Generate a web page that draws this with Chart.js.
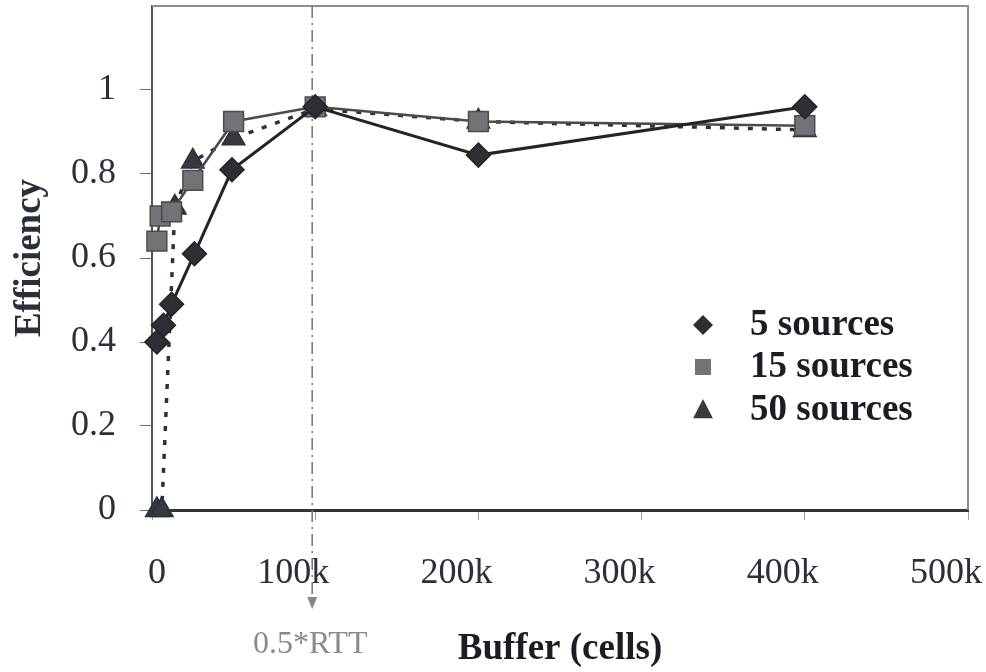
<!DOCTYPE html>
<html><head><meta charset="utf-8">
<script src="https://cdn.jsdelivr.net/npm/chart.js@4.4.1/dist/chart.umd.min.js"></script>
<style>html,body{margin:0;padding:0;background:#fff;}</style>
</head><body>
<canvas id="c" width="986" height="672"></canvas>
<script>
// ---- data (buffer in k cells, efficiency) ----
const seriesLabels = ['5 sources', '15 sources', '50 sources'];
const x5  = [3, 7, 12, 26, 49, 100, 200, 400];
const y5  = [0.40, 0.44, 0.49, 0.61, 0.81, 0.96, 0.845, 0.96];
const x15 = [3, 5, 12, 25, 50, 100, 200, 400];
const y15 = [0.64, 0.70, 0.71, 0.785, 0.925, 0.96, 0.925, 0.915];
const x50 = [3, 6, 14, 25, 50, 100, 200, 400];
const y50 = [0, 0, 0.72, 0.83, 0.885, 0.955, 0.925, 0.905];
const xTicks = [0, 100, 200, 300, 400, 500];
const yTicks = [0, 0.2, 0.4, 0.6, 0.8, 1];
const rttBuffer = 100;
const rttLabel = '0.5*RTT';
const xTitle = 'Buffer (cells)';
const yTitle = 'Efficiency';

const pts = (xs, ys) => xs.map((x, i) => ({x: x, y: ys[i]}));
const serif = '"Liberation Serif", "Times New Roman", serif';

const styles = [
  {color: '#232328', fill: '#2e2e34', dash: [], width: 3, point: 'rectRot', r: 12},
  {color: '#4a4a4f', fill: '#737377', dash: [], width: 2.5, point: 'rect', r: 14},
  {color: '#26323e', fill: '#38383d', dash: [5, 9], width: 3.5, point: 'triangle', r: 13}
];
const seriesData = [pts(x5, y5), pts(x15, y15), pts(x50, y50)];

const datasets = seriesData.map((d, i) => ({
  label: seriesLabels[i],
  data: d,
  clip: false,
  borderColor: styles[i].color,
  borderWidth: styles[i].width,
  borderDash: styles[i].dash,
  pointStyle: styles[i].point,
  pointRadius: styles[i].r,
  pointBackgroundColor: styles[i].fill,
  pointBorderColor: styles[i].color,
  pointBorderWidth: 1.5,
  tension: 0,
  fill: false
}));

function drawMarker(ctx, kind, x, y, s) {
  ctx.beginPath();
  if (kind === 'rectRot') {
    ctx.moveTo(x, y - s); ctx.lineTo(x + s, y); ctx.lineTo(x, y + s); ctx.lineTo(x - s, y);
  } else if (kind === 'rect') {
    ctx.rect(x - s, y - s, 2 * s, 2 * s);
  } else {
    ctx.moveTo(x, y - s); ctx.lineTo(x + s * 0.9, y + s * 0.75); ctx.lineTo(x - s * 0.9, y + s * 0.75);
  }
  ctx.closePath();
  ctx.fill();
}

const decor = {
  id: 'decor',
  beforeDatasetsDraw(chart) {
    const {ctx, chartArea: a, scales: {x}} = chart;
    ctx.save();
    ctx.strokeStyle = '#8e8e8e';
    ctx.lineWidth = 2;
    ctx.beginPath();
    ctx.moveTo(a.left, a.top); ctx.lineTo(a.right, a.top); ctx.lineTo(a.right, a.bottom);
    ctx.stroke();
    const px = x.getPixelForValue(rttBuffer) - 3;
    ctx.strokeStyle = '#6f7d8a';
    ctx.lineWidth = 1.6;
    ctx.setLineDash([12, 5, 2, 5]);
    ctx.beginPath(); ctx.moveTo(px, a.top); ctx.lineTo(px, a.bottom + 90); ctx.stroke();
    ctx.setLineDash([]);
    ctx.fillStyle = '#7f8891';
    ctx.beginPath();
    ctx.moveTo(px - 5, a.bottom + 87); ctx.lineTo(px + 5, a.bottom + 87); ctx.lineTo(px, a.bottom + 99);
    ctx.closePath(); ctx.fill();
    ctx.fillStyle = '#8a8a8a';
    ctx.font = '32px ' + serif;
    ctx.textAlign = 'center';
    ctx.textBaseline = 'alphabetic';
    ctx.fillText(rttLabel, px - 2, a.bottom + 143);
    ctx.restore();
  },
  afterDatasetsDraw(chart) {
    const {ctx} = chart;
    ctx.save();
    const rows = [325, 367, 410];
    const sizes = [10, 8, 11];
    ctx.font = 'bold 37px ' + serif;
    ctx.textBaseline = 'middle';
    ctx.textAlign = 'left';
    seriesLabels.forEach((lab, i) => {
      ctx.fillStyle = styles[i].fill;
      drawMarker(ctx, styles[i].point, 703, rows[i], sizes[i]);
      ctx.fillStyle = '#1c1c24';
      ctx.fillText(lab, 750, rows[i]);
    });
    ctx.restore();
  }
};

new Chart(document.getElementById('c'), {
  type: 'line',
  data: {datasets: datasets},
  plugins: [decor],
  options: {
    responsive: false,
    animation: false,
    layout: {autoPadding: false, padding: {top: 6, right: 18, left: 0, bottom: 0}},
    plugins: {legend: {display: false}, tooltip: {enabled: false}},
    scales: {
      x: {
        type: 'linear', min: 0, max: 500,
        afterBuildTicks: s => { s.ticks = xTicks.map(v => ({value: v})); },
        afterFit: s => { s.height = 162; s.paddingLeft = 0; s.paddingRight = 0; },
        grid: {drawOnChartArea: false, drawTicks: true, tickLength: 10, color: '#a0a0a0'},
        border: {display: true, color: '#333333', width: 3},
        ticks: {
          align: 'end', labelOffset: 14, padding: 32, color: '#2b2f3a',
          font: {family: serif, size: 36},
          callback: v => v === 0 ? '0' : v + 'k'
        },
        title: {display: true, text: xTitle, color: '#1c1c24', padding: {top: 0, bottom: 0},
          font: {family: serif, size: 37, weight: 'bold'}}
      },
      y: {
        min: 0, max: 1.2,
        afterBuildTicks: s => { s.ticks = yTicks.map(v => ({value: v})); },
        afterFit: s => { s.width = 152; s.paddingTop = 0; s.paddingBottom = 0; },
        grid: {drawOnChartArea: false, drawTicks: true, tickLength: 12, color: '#6a6a6a'},
        border: {display: true, color: '#555555', width: 2},
        ticks: {
          padding: 24, color: '#2b2f3a',
          font: {family: serif, size: 36},
          callback: v => String(Math.round(v * 10) / 10)
        },
        title: {display: true, text: yTitle, color: '#2b2f3a', padding: {top: 8, bottom: 0},
          font: {family: serif, size: 37, weight: 'bold'}}
      }
    }
  }
});
</script>
</body></html>
